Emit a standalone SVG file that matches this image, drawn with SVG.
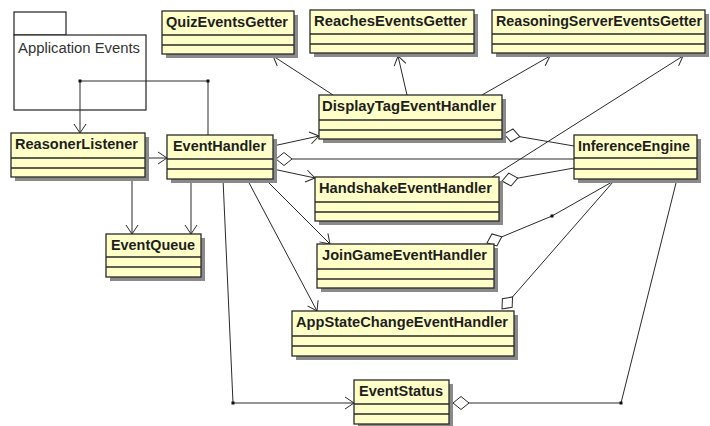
<svg xmlns="http://www.w3.org/2000/svg" width="710" height="426" viewBox="0 0 710 426">
  <style>
    .shadow { fill: #8a8a8a; }
    .box { fill: #ffffc8; stroke: #2a2a2a; stroke-width: 1.3; }
    .sep { stroke: #2a2a2a; stroke-width: 1.3; }
    .title { font-family: "Liberation Sans", Arial, sans-serif; font-weight: bold; font-size: 14px; fill: #1e1e1e; }
    .pkg { fill: #ffffff; stroke: #222; stroke-width: 1.2; }
    .pkgtext { font-family: "Liberation Sans", Arial, sans-serif; font-size: 14px; fill: #333; }
    .edge { fill: none; stroke: #2a2a2a; stroke-width: 1; }
    .dot { fill: #111; }
  </style>
  <defs>
    <marker id="open" viewBox="-12 -8 14 16" markerWidth="14" markerHeight="16" refX="0" refY="0" orient="auto" markerUnits="userSpaceOnUse">
      <path d="M-9,-6 L0,0 L-9,6" fill="none" stroke="#2a2a2a" stroke-width="1"/>
    </marker>
    <marker id="agg" viewBox="-1 -8 19 16" markerWidth="19" markerHeight="16" refX="0" refY="0" orient="auto" markerUnits="userSpaceOnUse">
      <path d="M0,0 L8,-6.5 L16,0 L8,6.5 Z" fill="#fff" stroke="#2a2a2a" stroke-width="1"/>
    </marker>
  </defs>

  <!-- package -->
  <g id="ApplicationEvents">
    <rect class="pkg" x="14" y="12" width="52" height="23"/>
    <rect class="pkg" x="14" y="35" width="132" height="75"/>
    <text class="pkgtext" x="18" y="53" textLength="122" lengthAdjust="spacingAndGlyphs">Application Events</text>
  </g>

  <!-- connectors -->
  <g id="connectors">
    <path class="edge" d="M208,135 L208,81 L80,81 L80,133" marker-end="url(#open)"/>
    <path class="edge" d="M145,158 L167,158" marker-end="url(#open)"/>
    <path class="edge" d="M132,177 L132,234" marker-end="url(#open)"/>
    <path class="edge" d="M191,179 L191,234" marker-end="url(#open)"/>
    <path class="edge" d="M273,146 L319,136" marker-end="url(#open)"/>
    <path class="edge" d="M273,169 L315,178" marker-end="url(#open)"/>
    <path class="edge" d="M265,179 L330,244" marker-end="url(#open)"/>
    <path class="edge" d="M247,179 L317,311" marker-end="url(#open)"/>
    <path class="edge" d="M223,179 L233,403 L354,403" marker-end="url(#open)"/>
    <path class="edge" d="M333,95 L273,56" marker-end="url(#open)"/>
    <path class="edge" d="M407,95 L398,56" marker-end="url(#open)"/>
    <path class="edge" d="M482,95 L550,56" marker-end="url(#open)"/>
    <path class="edge" d="M492,177 L683,56" marker-end="url(#open)"/>
    <path class="edge" d="M504,134 L574,146" marker-start="url(#agg)"/>
    <path class="edge" d="M276,159 L574,159" marker-start="url(#agg)"/>
    <path class="edge" d="M502,181 L574,168" marker-start="url(#agg)"/>
    <path class="edge" d="M487,243 L552,216 L612,182" marker-start="url(#agg)"/>
    <path class="edge" d="M502,309 L613,182" marker-start="url(#agg)"/>
    <path class="edge" d="M453,403 L621,403 L677,179" marker-start="url(#agg)"/>
    <rect class="dot" x="78.5" y="79.5" width="3" height="3"/>
    <rect class="dot" x="206.5" y="79.5" width="3" height="3"/>
    <rect class="dot" x="231.5" y="401.5" width="3" height="3"/>
    <rect class="dot" x="619.5" y="401.5" width="3" height="3"/>
    <rect class="dot" x="550.5" y="214.5" width="3" height="3"/>
  </g>

  <!-- classes -->
  <g id="QuizEventsGetter">
    <rect class="shadow" x="166" y="15" width="132" height="43"/>
    <rect class="box" x="162" y="11" width="132" height="43"/>
    <line class="sep" x1="162" y1="35" x2="294" y2="35"/>
    <line class="sep" x1="162" y1="45" x2="294" y2="45"/>
    <text class="title" x="166" y="27" textLength="122" lengthAdjust="spacingAndGlyphs">QuizEventsGetter</text>
  </g>
  <g id="ReachesEventsGetter">
    <rect class="shadow" x="314" y="14" width="164" height="43"/>
    <rect class="box" x="310" y="10" width="164" height="43"/>
    <line class="sep" x1="310" y1="34" x2="474" y2="34"/>
    <line class="sep" x1="310" y1="44" x2="474" y2="44"/>
    <text class="title" x="314" y="26" textLength="153" lengthAdjust="spacingAndGlyphs">ReachesEventsGetter</text>
  </g>
  <g id="ReasoningServerEventsGetter">
    <rect class="shadow" x="496" y="14" width="213" height="43"/>
    <rect class="box" x="492" y="10" width="213" height="43"/>
    <line class="sep" x1="492" y1="34" x2="705" y2="34"/>
    <line class="sep" x1="492" y1="44" x2="705" y2="44"/>
    <text class="title" x="496" y="26" textLength="206" lengthAdjust="spacingAndGlyphs">ReasoningServerEventsGetter</text>
  </g>
  <g id="ReasonerListener">
    <rect class="shadow" x="15" y="137" width="134" height="44"/>
    <rect class="box" x="11" y="133" width="134" height="44"/>
    <line class="sep" x1="11" y1="158" x2="145" y2="158"/>
    <line class="sep" x1="11" y1="168" x2="145" y2="168"/>
    <text class="title" x="15" y="149" textLength="123" lengthAdjust="spacingAndGlyphs">ReasonerListener</text>
  </g>
  <g id="EventHandler">
    <rect class="shadow" x="171" y="139" width="106" height="44"/>
    <rect class="box" x="167" y="135" width="106" height="44"/>
    <line class="sep" x1="167" y1="159" x2="273" y2="159"/>
    <line class="sep" x1="167" y1="169" x2="273" y2="169"/>
    <text class="title" x="173" y="151" textLength="93" lengthAdjust="spacingAndGlyphs">EventHandler</text>
  </g>
  <g id="EventQueue">
    <rect class="shadow" x="110" y="238" width="95" height="43"/>
    <rect class="box" x="106" y="234" width="95" height="43"/>
    <line class="sep" x1="106" y1="257" x2="201" y2="257"/>
    <line class="sep" x1="106" y1="267" x2="201" y2="267"/>
    <text class="title" x="111" y="250" textLength="84" lengthAdjust="spacingAndGlyphs">EventQueue</text>
  </g>
  <g id="DisplayTagEventHandler">
    <rect class="shadow" x="323" y="99" width="183" height="44"/>
    <rect class="box" x="319" y="95" width="183" height="44"/>
    <line class="sep" x1="319" y1="120" x2="502" y2="120"/>
    <line class="sep" x1="319" y1="130" x2="502" y2="130"/>
    <text class="title" x="322" y="111" textLength="174" lengthAdjust="spacingAndGlyphs">DisplayTagEventHandler</text>
  </g>
  <g id="HandshakeEventHandler">
    <rect class="shadow" x="319" y="181" width="184" height="44"/>
    <rect class="box" x="315" y="177" width="184" height="44"/>
    <line class="sep" x1="315" y1="202" x2="499" y2="202"/>
    <line class="sep" x1="315" y1="212" x2="499" y2="212"/>
    <text class="title" x="319" y="193" textLength="173" lengthAdjust="spacingAndGlyphs">HandshakeEventHandler</text>
  </g>
  <g id="JoinGameEventHandler">
    <rect class="shadow" x="321" y="248" width="177" height="44"/>
    <rect class="box" x="317" y="244" width="177" height="44"/>
    <line class="sep" x1="317" y1="269" x2="494" y2="269"/>
    <line class="sep" x1="317" y1="279" x2="494" y2="279"/>
    <text class="title" x="322" y="260" textLength="165" lengthAdjust="spacingAndGlyphs">JoinGameEventHandler</text>
  </g>
  <g id="AppStateChangeEventHandler">
    <rect class="shadow" x="296" y="315" width="222" height="45"/>
    <rect class="box" x="292" y="311" width="222" height="45"/>
    <line class="sep" x1="292" y1="336" x2="514" y2="336"/>
    <line class="sep" x1="292" y1="346" x2="514" y2="346"/>
    <text class="title" x="296" y="327" textLength="212" lengthAdjust="spacingAndGlyphs">AppStateChangeEventHandler</text>
  </g>
  <g id="EventStatus">
    <rect class="shadow" x="358" y="384" width="95" height="44"/>
    <rect class="box" x="354" y="380" width="95" height="44"/>
    <line class="sep" x1="354" y1="404" x2="449" y2="404"/>
    <line class="sep" x1="354" y1="414" x2="449" y2="414"/>
    <text class="title" x="359" y="396" textLength="84" lengthAdjust="spacingAndGlyphs">EventStatus</text>
  </g>
  <g id="InferenceEngine">
    <rect class="shadow" x="578" y="139" width="123" height="44"/>
    <rect class="box" x="574" y="135" width="123" height="44"/>
    <line class="sep" x1="574" y1="158" x2="697" y2="158"/>
    <line class="sep" x1="574" y1="169" x2="697" y2="169"/>
    <text class="title" x="578" y="151" textLength="112" lengthAdjust="spacingAndGlyphs">InferenceEngine</text>
  </g>
</svg>
